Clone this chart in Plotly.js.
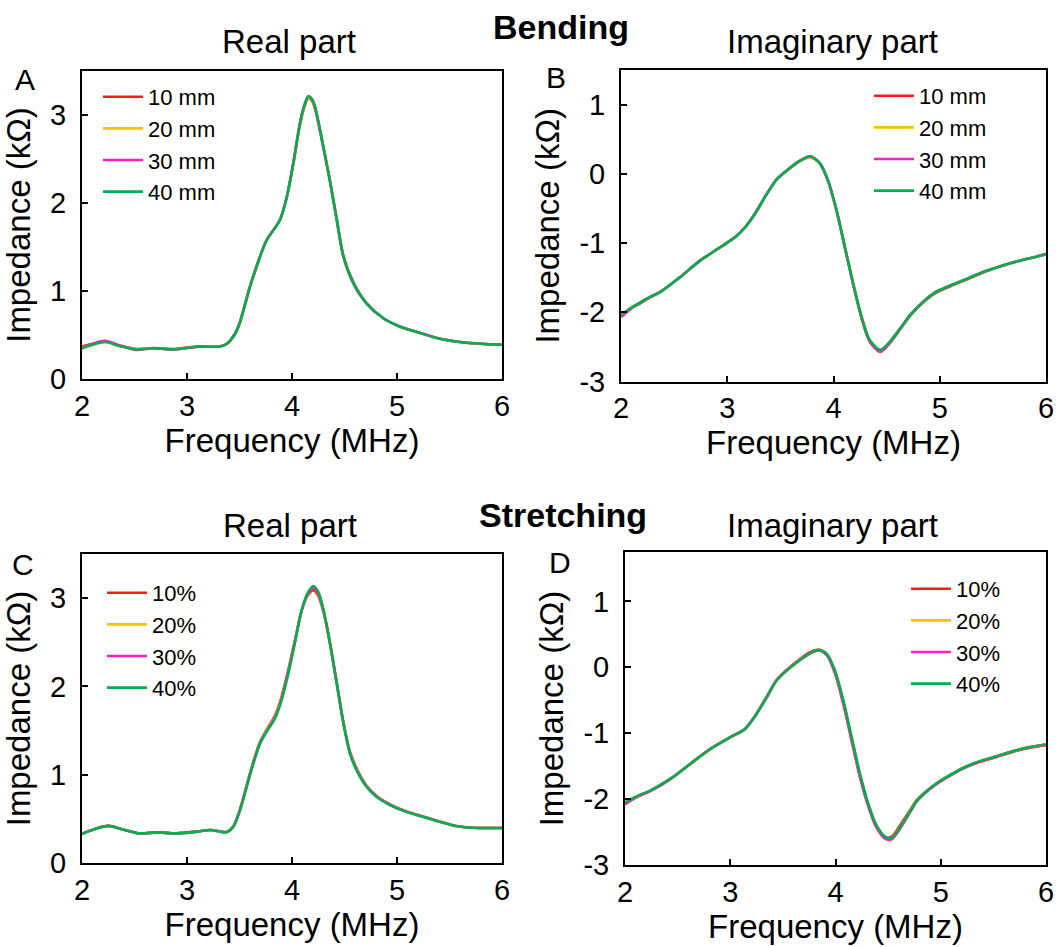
<!DOCTYPE html>
<html><head><meta charset="utf-8">
<script src="https://cdn.plot.ly/plotly-3.0.1.min.js"></script>
<style>html,body{margin:0;padding:0;background:#fff}#chart{width:1056px;height:947px}</style>
</head><body><div id="chart"></div><script>
// ---------- labels ----------
const bendLabels = ['10 mm', '20 mm', '30 mm', '40 mm'];
const stretchLabels = ['10%', '20%', '30%', '40%'];
const seriesColors = ['#ff1a1a', '#ffc000', '#ff1fc8', '#00b050'];
const xTickVals = [2, 3, 4, 5, 6];
const xTickText = ['2', '3', '4', '5', '6'];
const realTickVals = [0, 1, 2, 3];
const realTickText = ['0', '1', '2', '3'];
const imagTickVals = [-3, -2, -1, 0, 1];
const imagTickText = ['-3', '-2', '-1', '0', '1'];

// ---------- A: bending, real part (kΩ) ----------
const fA = [2.00,2.10,2.22,2.36,2.52,2.68,2.87,3.09,3.31,3.38,3.46,3.50,3.60,3.695,3.76,3.886,3.95,4.012,4.076,4.12,4.155,4.19,4.22,4.28,4.36,4.426,4.49,4.584,4.71,4.87,5.03,5.2,5.4,5.6,5.8,6.0];
const aReal10 = [0.37,0.40,0.43,0.38,0.34,0.35,0.34,0.37,0.37,0.40,0.52,0.63,1.05,1.39,1.58,1.81,2.06,2.44,2.89,3.10,3.19,3.16,3.07,2.74,2.26,1.82,1.40,1.10,0.86,0.69,0.595,0.53,0.46,0.42,0.40,0.39];
const aReal20 = [0.36,0.39,0.42,0.375,0.337,0.352,0.337,0.367,0.37,0.40,0.52,0.63,1.05,1.39,1.58,1.81,2.07,2.45,2.90,3.11,3.20,3.17,3.08,2.75,2.26,1.81,1.39,1.09,0.86,0.69,0.594,0.53,0.46,0.42,0.40,0.39];
const aReal30 = [0.35,0.40,0.435,0.38,0.33,0.35,0.335,0.365,0.37,0.40,0.52,0.63,1.05,1.39,1.58,1.81,2.07,2.45,2.91,3.12,3.21,3.18,3.09,2.75,2.26,1.81,1.39,1.09,0.86,0.69,0.594,0.53,0.46,0.42,0.40,0.39];
const aReal40 = [0.35,0.39,0.42,0.375,0.337,0.352,0.337,0.367,0.37,0.40,0.52,0.63,1.05,1.39,1.58,1.81,2.07,2.45,2.91,3.12,3.215,3.18,3.09,2.75,2.26,1.81,1.39,1.09,0.86,0.69,0.594,0.53,0.46,0.42,0.40,0.39];

// ---------- B: bending, imaginary part (kΩ) ----------
const fB = [2.00,2.09,2.18,2.27,2.367,2.555,2.744,2.932,3.09,3.18,3.277,3.37,3.465,3.56,3.685,3.78,3.87,3.95,4.03,4.108,4.186,4.265,4.34,4.44,4.516,4.626,4.726,4.85,4.95,5.106,5.265,5.42,5.58,5.74,5.90,6.00];
const bImag10 = [-2.07,-1.95,-1.87,-1.79,-1.71,-1.494,-1.254,-1.063,-0.895,-0.75,-0.536,-0.296,-0.08,0.045,0.185,0.245,0.15,-0.11,-0.54,-1.07,-1.60,-2.09,-2.42,-2.57,-2.47,-2.25,-2.04,-1.85,-1.73,-1.62,-1.52,-1.42,-1.33,-1.26,-1.20,-1.16];
const bImag20 = [-2.05,-1.94,-1.86,-1.78,-1.71,-1.494,-1.254,-1.063,-0.895,-0.75,-0.536,-0.296,-0.08,0.049,0.19,0.252,0.156,-0.105,-0.536,-1.063,-1.59,-2.07,-2.40,-2.55,-2.45,-2.236,-2.03,-1.84,-1.72,-1.61,-1.51,-1.41,-1.33,-1.26,-1.20,-1.16];
const bImag30 = [-2.06,-1.95,-1.86,-1.78,-1.71,-1.494,-1.254,-1.063,-0.895,-0.75,-0.536,-0.296,-0.08,0.049,0.19,0.254,0.158,-0.105,-0.54,-1.07,-1.60,-2.08,-2.42,-2.57,-2.46,-2.24,-2.03,-1.84,-1.72,-1.61,-1.51,-1.41,-1.33,-1.26,-1.20,-1.16];
const bImag40 = [-2.04,-1.94,-1.86,-1.78,-1.71,-1.494,-1.254,-1.063,-0.895,-0.75,-0.536,-0.296,-0.08,0.049,0.19,0.254,0.158,-0.105,-0.536,-1.063,-1.59,-2.07,-2.40,-2.54,-2.45,-2.236,-2.03,-1.84,-1.72,-1.61,-1.51,-1.41,-1.33,-1.26,-1.20,-1.16];

// ---------- C: stretching, real part (kΩ) ----------
const fC = [2.00,2.11,2.25,2.39,2.55,2.71,2.90,3.09,3.22,3.378,3.44,3.505,3.568,3.632,3.695,3.759,3.838,3.90,3.965,4.029,4.092,4.155,4.203,4.25,4.30,4.362,4.426,4.49,4.552,4.616,4.71,4.806,4.933,5.077,5.238,5.40,5.56,5.72,5.88,6.00];
const cReal10 = [0.33,0.38,0.42,0.38,0.336,0.347,0.336,0.355,0.374,0.35,0.41,0.61,0.88,1.15,1.37,1.51,1.67,1.88,2.19,2.53,2.86,3.04,3.09,3.03,2.84,2.48,2.04,1.59,1.26,1.07,0.875,0.76,0.665,0.59,0.53,0.47,0.42,0.40,0.396,0.396];
const cReal20 = [0.33,0.38,0.42,0.38,0.336,0.347,0.336,0.355,0.374,0.35,0.41,0.60,0.87,1.14,1.36,1.50,1.65,1.86,2.16,2.51,2.86,3.06,3.12,3.06,2.86,2.49,2.04,1.59,1.25,1.06,0.87,0.755,0.66,0.588,0.53,0.47,0.42,0.40,0.396,0.396];
const cReal30 = [0.33,0.38,0.42,0.38,0.336,0.347,0.336,0.355,0.374,0.35,0.41,0.60,0.864,1.13,1.355,1.49,1.64,1.85,2.16,2.51,2.86,3.06,3.11,3.06,2.86,2.49,2.04,1.585,1.25,1.055,0.87,0.752,0.66,0.586,0.528,0.47,0.42,0.40,0.396,0.396];
const cReal40 = [0.33,0.38,0.42,0.38,0.336,0.347,0.336,0.355,0.374,0.35,0.41,0.60,0.864,1.13,1.355,1.49,1.64,1.846,2.15,2.506,2.865,3.07,3.137,3.07,2.865,2.49,2.035,1.58,1.24,1.05,0.864,0.75,0.657,0.585,0.528,0.47,0.42,0.40,0.396,0.396];

// ---------- D: stretching, imaginary part (kΩ) ----------
const fD = [2.00,2.12,2.2375,2.4275,2.6175,2.8076,2.9976,3.14,3.25,3.346,3.44,3.536,3.663,3.758,3.837,3.917,3.995,4.075,4.154,4.233,4.312,4.39,4.47,4.534,4.613,4.708,4.77,4.85,4.95,5.06,5.22,5.376,5.53,5.69,5.85,6.00];
const dImag10 = [-2.07,-1.96,-1.88,-1.70,-1.47,-1.245,-1.065,-0.935,-0.70,-0.445,-0.19,-0.04,0.125,0.23,0.265,0.19,-0.09,-0.56,-1.12,-1.67,-2.11,-2.43,-2.58,-2.57,-2.40,-2.17,-2.02,-1.90,-1.78,-1.67,-1.53,-1.43,-1.36,-1.28,-1.22,-1.18];
const dImag20 = [-2.06,-1.95,-1.87,-1.694,-1.466,-1.24,-1.062,-0.935,-0.707,-0.455,-0.20,-0.05,0.112,0.213,0.262,0.20,-0.06,-0.52,-1.08,-1.63,-2.08,-2.40,-2.57,-2.59,-2.43,-2.19,-2.03,-1.90,-1.77,-1.66,-1.52,-1.42,-1.35,-1.27,-1.21,-1.17];
const dImag30 = [-2.08,-1.96,-1.88,-1.70,-1.47,-1.24,-1.062,-0.935,-0.707,-0.455,-0.20,-0.05,0.112,0.21,0.255,0.19,-0.07,-0.54,-1.10,-1.65,-2.10,-2.43,-2.60,-2.61,-2.45,-2.20,-2.04,-1.91,-1.78,-1.67,-1.53,-1.43,-1.35,-1.27,-1.21,-1.17];
const dImag40 = [-2.05,-1.95,-1.87,-1.694,-1.466,-1.24,-1.062,-0.935,-0.707,-0.455,-0.20,-0.05,0.112,0.213,0.264,0.203,-0.05,-0.505,-1.062,-1.618,-2.073,-2.40,-2.57,-2.59,-2.43,-2.19,-2.03,-1.90,-1.77,-1.66,-1.52,-1.42,-1.35,-1.27,-1.21,-1.17];

// ---------- build traces ----------
const FONT = 'Liberation Sans, Arial, Helvetica, sans-serif';
function panelTraces(x, ys, names, xa, ya, legendId) {
  return ys.map((y, i) => ({
    type: 'scatter', mode: 'lines', x: x, y: y, name: names[i],
    xaxis: xa, yaxis: ya, legend: legendId,
    line: {color: seriesColors[i], width: 2.6, shape: 'spline', smoothing: 0.8},
    hoverinfo: 'x+y+name'
  }));
}
const data = [].concat(
  panelTraces(fA, [aReal10, aReal20, aReal30, aReal40], bendLabels, 'x', 'y', 'legend'),
  panelTraces(fB, [bImag10, bImag20, bImag30, bImag40], bendLabels, 'x2', 'y2', 'legend2'),
  panelTraces(fC, [cReal10, cReal20, cReal30, cReal40], stretchLabels, 'x3', 'y3', 'legend3'),
  panelTraces(fD, [dImag10, dImag20, dImag30, dImag40], stretchLabels, 'x4', 'y4', 'legend4')
);

const W = 1056, H = 947;
const px = v => v / W;
const py = v => 1 - v / H;

function xAxis(d0, d1, anchor) {
  return {
    domain: [px(d0), px(d1)], range: [2, 6], anchor: anchor,
    tickvals: xTickVals, ticktext: xTickText,
    ticks: 'inside', ticklen: 6, tickwidth: 2, tickcolor: '#000',
    showline: true, linecolor: '#000', linewidth: 2, mirror: true,
    showgrid: false, zeroline: false, automargin: false,
    tickfont: {family: FONT, size: 29, color: '#000'},
    title: {text: 'Frequency (MHz)', font: {family: FONT, size: 33, color: '#000'}, standoff: 6}
  };
}
function yAxis(d0, d1, range, tv, tt, anchor) {
  return {
    domain: [py(d1), py(d0)], range: range, anchor: anchor,
    tickvals: tv, ticktext: tt,
    ticks: 'inside', ticklen: 6, tickwidth: 2, tickcolor: '#000',
    showline: true, linecolor: '#000', linewidth: 2, mirror: true,
    showgrid: false, zeroline: false, automargin: false,
    ticklabelstandoff: 8,
    tickfont: {family: FONT, size: 29, color: '#000'},
    title: {text: 'Impedance (kΩ)', font: {family: FONT, size: 33, color: '#000'}, standoff: 10}
  };
}
function legendAt(xl, yt) {
  return {x: px(xl), y: py(yt), xanchor: 'left', yanchor: 'top',
    bgcolor: 'rgba(0,0,0,0)', borderwidth: 0, itemwidth: 40,
    font: {family: FONT, size: 22, color: '#000'}, tracegroupgap: 0};
}
function txt(text, x, y, size, bold) {
  return {text: bold ? '<b>' + text + '</b>' : text, x: px(x), y: py(y), xref: 'paper', yref: 'paper',
    xanchor: 'center', yanchor: 'middle', showarrow: false,
    font: {family: FONT, size: size, color: '#000'}};
}

const layout = {
  width: W, height: H,
  margin: {l: 0, r: 0, t: 0, b: 0},
  paper_bgcolor: '#fff', plot_bgcolor: '#fff',
  showlegend: true,
  font: {family: FONT, color: '#000'},
  xaxis: xAxis(82, 502, 'y'),
  yaxis: yAxis(71, 379, [0, 3.5], realTickVals, realTickText, 'x'),
  xaxis2: xAxis(621, 1046, 'y2'),
  yaxis2: yAxis(70, 381.5, [-3, 1.5], imagTickVals, imagTickText, 'x2'),
  xaxis3: xAxis(82, 502, 'y3'),
  yaxis3: yAxis(554, 863, [0, 3.5], realTickVals, realTickText, 'x3'),
  xaxis4: xAxis(625, 1046, 'y4'),
  yaxis4: yAxis(552, 865, [-3, 1.75], imagTickVals, imagTickText, 'x4'),
  legend: legendAt(98, 76),
  legend2: legendAt(869, 75),
  legend3: legendAt(102, 572),
  legend4: legendAt(906, 568),
  annotations: [
    txt('Bending', 561, 27, 34, true),
    txt('Stretching', 563, 515, 34, true),
    txt('Real part', 289, 42, 33, false),
    txt('Imaginary part', 832, 42, 33, false),
    txt('Real part', 290, 525, 33, false),
    txt('Imaginary part', 832, 525, 33, false),
    txt('A', 25, 80, 30, false),
    txt('B', 556, 77, 30, false),
    txt('C', 23, 564, 30, false),
    txt('D', 560, 562, 30, false)
  ]
};

Plotly.newPlot('chart', data, layout, {staticPlot: true, displayModeBar: false});
</script></body></html>
